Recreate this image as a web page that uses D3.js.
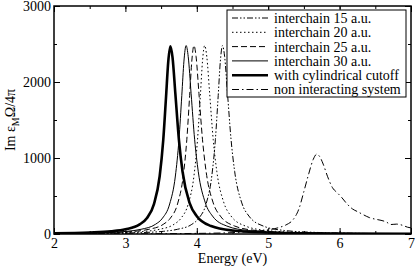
<!DOCTYPE html>
<html lang="en">
<head>
<meta charset="UTF-8">
<title>Im eps</title>
<script src="https://d3js.org/d3.v7.min.js"></script>
<style>
    body { margin: 0; background: #fff; }
    text { font-family: 'Liberation Serif', 'Times New Roman', serif; fill: #000; }
</style>
</head>
<body>
<div id="chart"></div>
<script>
// energies (eV) and Im eps values
var e15 = [2.0, 2.73, 3.23, 3.53, 3.73, 3.93, 4.03, 4.13, 4.21, 4.26, 4.30, 4.33, 4.36, 4.39, 4.43, 4.48, 4.53, 4.63, 4.73, 4.93, 5.23, 5.73, 6.23, 7.0];
var v15 = [2, 9, 19, 35, 62, 127, 209, 395, 763, 1240, 1823, 2275, 2480, 2333, 1850, 1240, 825, 409, 236, 105, 46, 19, 9, 4];

var e20 = [2.0, 2.48, 2.98, 3.28, 3.48, 3.68, 3.78, 3.88, 3.96, 4.01, 4.05, 4.08, 4.11, 4.14, 4.18, 4.23, 4.28, 4.38, 4.48, 4.68, 4.98, 5.48, 5.98, 7.0];
var v20 = [2, 9, 19, 35, 62, 127, 209, 395, 763, 1240, 1823, 2275, 2480, 2333, 1850, 1240, 825, 409, 236, 105, 46, 19, 9, 4];

var e25 = [2.0, 2.33, 2.83, 3.13, 3.33, 3.53, 3.63, 3.73, 3.81, 3.86, 3.90, 3.93, 3.96, 3.99, 4.03, 4.08, 4.13, 4.23, 4.33, 4.53, 4.83, 5.33, 5.83, 6.5, 7.0];
var v25 = [3, 9, 19, 35, 62, 127, 209, 395, 763, 1240, 1823, 2275, 2480, 2333, 1850, 1240, 825, 409, 236, 105, 46, 19, 9, 5, 3];

var e30 = [2.0, 2.22, 2.72, 3.02, 3.22, 3.42, 3.52, 3.62, 3.70, 3.75, 3.79, 3.82, 3.85, 3.88, 3.92, 3.97, 4.02, 4.12, 4.22, 4.42, 4.72, 5.22, 5.72, 6.5, 7.0];
var v30 = [4, 9, 19, 35, 62, 127, 209, 395, 763, 1240, 1823, 2275, 2480, 2333, 1850, 1240, 825, 409, 236, 105, 46, 19, 9, 5, 3];

var eCut = [2.0, 2.5, 2.8, 3.0, 3.2, 3.3, 3.4, 3.48, 3.53, 3.57, 3.60, 3.63, 3.66, 3.70, 3.75, 3.80, 3.90, 4.0, 4.2, 4.5, 5.0, 5.5, 6.0, 7.0];
var vCut = [9, 19, 35, 62, 127, 208, 393, 760, 1235, 1816, 2266, 2470, 2324, 1843, 1235, 822, 407, 235, 105, 46, 19, 9, 6, 3];

var eNon = [2.0, 3.0, 3.5, 4.0, 4.5, 4.8, 5.0, 5.15, 5.25, 5.35, 5.43, 5.5, 5.57, 5.63, 5.68, 5.72, 5.77, 5.83, 5.9, 5.97, 6.03, 6.1, 6.18, 6.26, 6.34, 6.42, 6.5, 6.58, 6.65, 6.72, 6.8, 6.88, 6.95, 7.0];
var vNon = [0, 2, 4, 8, 18, 35, 55, 85, 120, 190, 330, 560, 800, 980, 1050, 1020, 920, 760, 610, 540, 480, 400, 330, 290, 250, 215, 195, 180, 160, 125, 130, 115, 90, 80];

var labels = ["interchain 15 a.u.", "interchain 20 a.u.", "interchain 25 a.u.", "interchain 30 a.u.", "with cylindrical cutoff", "non interacting system"];
var xTicks = [2, 3, 4, 5, 6, 7];
var yTicks = [0, 1000, 2000, 3000];

var series = [
    { name: labels[0], e: e15, v: v15, dash: "6,2,1.5,2,1.5,2", w: 1 },
    { name: labels[1], e: e20, v: v20, dash: "1.5,2.5", w: 1 },
    { name: labels[2], e: e25, v: v25, dash: "6,3", w: 1 },
    { name: labels[3], e: e30, v: v30, dash: null, w: 1 },
    { name: labels[4], e: eCut, v: vCut, dash: null, w: 2.6 },
    { name: labels[5], e: eNon, v: vNon, dash: "7,3,1.5,3", w: 1 }
];

var W = 415, H = 267;
var margin = { top: 6, right: 4, bottom: 33, left: 54 };
var width = W - margin.left - margin.right,
    height = H - margin.top - margin.bottom;

var svg = d3.select("#chart").append("svg")
    .attr("width", W)
    .attr("height", H);

var g = svg.append("g")
    .attr("transform", "translate(" + margin.left + "," + margin.top + ")");

var x = d3.scaleLinear().domain([2, 7]).range([0, width]);
var y = d3.scaleLinear().domain([0, 3000]).range([height, 0]);

// ticks pointing inward on all four sides
var minorX = d3.range(2, 7.01, 0.5), minorY = d3.range(0, 3001, 500);
function tickAxes() {
    g.append("g").attr("transform", "translate(0," + height + ")")
        .call(d3.axisBottom(x).tickValues(minorX).tickSize(-3).tickFormat(""));
    g.append("g").attr("transform", "translate(0," + height + ")")
        .call(d3.axisBottom(x).tickValues(xTicks).tickSize(-6).tickPadding(4).tickFormat(d3.format("d")));
    g.append("g")
        .call(d3.axisTop(x).tickValues(minorX).tickSize(-3).tickFormat(""));
    g.append("g")
        .call(d3.axisTop(x).tickValues(xTicks).tickSize(-6).tickFormat(""));
    g.append("g")
        .call(d3.axisLeft(y).tickValues(minorY).tickSize(-3).tickFormat(""));
    g.append("g")
        .call(d3.axisLeft(y).tickValues(yTicks).tickSize(-6).tickPadding(3).tickFormat(d3.format("d")));
    g.append("g").attr("transform", "translate(" + width + ",0)")
        .call(d3.axisRight(y).tickValues(minorY).tickSize(-3).tickFormat(""));
    g.append("g").attr("transform", "translate(" + width + ",0)")
        .call(d3.axisRight(y).tickValues(yTicks).tickSize(-6).tickFormat(""));
}
tickAxes();
g.selectAll(".domain").remove();
g.selectAll(".tick line").attr("stroke", "#000");
g.selectAll(".tick text").style("font-size", "14px").attr("font-family", "'Liberation Serif', serif");

var line = d3.line()
    .x(function (d) { return x(d[0]); })
    .y(function (d) { return y(d[1]); })
    .curve(d3.curveMonotoneX);

g.append("clipPath").attr("id", "clip").append("rect")
    .attr("width", width).attr("height", height);

g.append("g").attr("clip-path", "url(#clip)")
    .selectAll("path")
    .data(series)
    .enter().append("path")
    .attr("fill", "none")
    .attr("stroke", "#000")
    .attr("stroke-width", function (d) { return d.w; })
    .attr("stroke-dasharray", function (d) { return d.dash; })
    .attr("d", function (d) { return line(d.e.map(function (e, i) { return [e, d.v[i]]; })); });

// frame
g.append("rect").attr("width", width).attr("height", height)
    .attr("fill", "none").attr("stroke", "#000").attr("stroke-width", 1.5);

// legend
var lg = g.append("g").attr("transform", "translate(" + (227 - margin.left) + "," + (10 - margin.top) + ")");
lg.append("rect").attr("width", 179).attr("height", 87)
    .attr("fill", "#fff").attr("stroke", "#000").attr("stroke-width", 1);
var rows = lg.selectAll(".row").data(series).enter().append("g")
    .attr("transform", function (d, i) { return "translate(0," + (8 + i * 14.3) + ")"; });
rows.append("line").attr("x1", 5).attr("x2", 41).attr("y1", 0).attr("y2", 0)
    .attr("stroke", "#000")
    .attr("stroke-width", function (d) { return d.w; })
    .attr("stroke-dasharray", function (d) { return d.dash; });
rows.append("text").attr("x", 47).attr("y", 0).attr("dy", "0.35em")
    .style("font-size", "14px")
    .text(function (d) { return d.name; });

// axis titles
svg.append("text")
    .attr("x", margin.left + width / 2).attr("y", 263)
    .attr("text-anchor", "middle").style("font-size", "14px")
    .text("Energy (eV)");

var yt = svg.append("text")
    .attr("transform", "translate(15," + (margin.top + height / 2) + ") rotate(-90)")
    .attr("text-anchor", "middle").style("font-size", "14px");
yt.append("tspan").text("Im ε");
yt.append("tspan").attr("dy", 4).style("font-size", "10px").text("M");
yt.append("tspan").attr("dy", -4).text("Ω/4π");
</script>
</body>
</html>
